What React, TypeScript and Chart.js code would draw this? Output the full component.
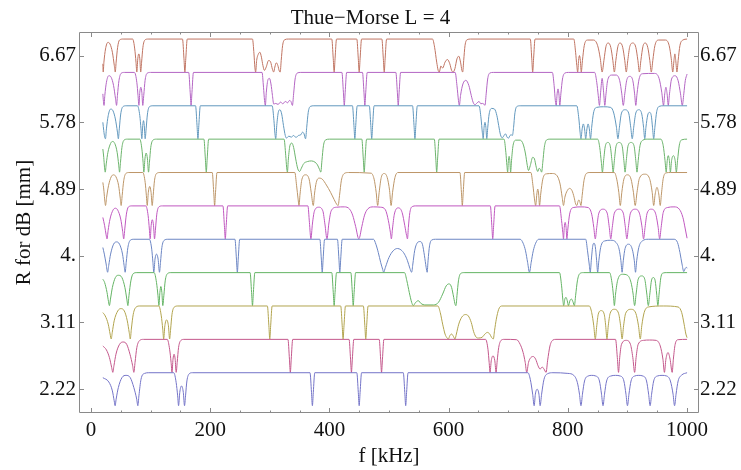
import React, { useEffect, useRef } from 'react';
import { Chart, registerables } from 'chart.js';

Chart.register(...registerables);

const TITLE = 'Thue\u2212Morse L = 4';
const X_TITLE = 'f [kHz]';
const Y_TITLE = 'R for dB [mm]';

// R value (mm) of each stacked trace, bottom to top
const R_VALUES = [2.22, 2.665, 3.11, 3.555, 4.0, 4.445, 4.89, 5.335, 5.78, 6.225, 6.67];
const TRACE_SPAN = 0.44; // vertical extent of one normalised trace (mm)
const COLORS = ['#7474c8', '#c4588c', '#b2a44e', '#64b464', '#6c86c4', '#c058c0', '#bd9668', '#6cb46c', '#6298be', '#b466c4', '#c07462'];

const X_MIN = -20;
const X_MAX = 1020;
const Y_MIN = 1.903;
const Y_MAX = 6.984;
const X_TICKS = [0, 200, 400, 600, 800, 1000];
const X_MINOR_TICKS = [0, 50, 100, 150, 200, 250, 300, 350, 400, 450, 500, 550, 600, 650, 700, 750, 800, 850, 900, 950, 1000];
const Y_TICKS = [2.22, 3.11, 4.0, 4.89, 5.78, 6.67];
const Y_TICK_LABELS = ['2.22', '3.11', '4.', '4.89', '5.78', '6.67'];

// Each trace: [f (kHz), normalised level 0..1]
const T_2_22 = [[20,.85],[30,.72],[36,.45],[39,.15],[40.6,0],[42.3,.2],[46,.55],[52,.85],[59,.92],[66,.85],[72,.55],[76.8,.2],[78.7,0],[80.5,.3],[84,.8],[90,.98],[97,1],[139,1],[143,.7],[145.5,.3],[147,0],[149,.4],[152,.6],[155,.4],[157,0],[158.7,.3],[161,.75],[165,.97],[170,1],[367.5,1],[370,.4],[371.5,0],[373,.4],[375.5,1],[446,1],[448.5,.4],[450,0],[451.5,.4],[454,1],[524,1],[526.5,.4],[528,0],[529.5,.4],[532,1],[733,1],[737,.8],[741,.35],[743.5,0],[745.5,.35],[748.5,.5],[751.5,.35],[753.5,0],[756,.35],[760,.8],[766,.97],[775,1],[800,.98],[810,.92],[816,.7],[819.5,.35],[822,0],[824.5,.35],[828,.75],[834,.9],[840,.92],[847,.9],[853,.75],[856.5,.35],[859,0],[861.5,.35],[865,.75],[872,.9],[880,.92],[888,.9],[894,.75],[897.5,.35],[900,0],[902.5,.35],[906,.75],[912,.9],[919,.92],[926,.9],[932,.75],[935.5,.35],[938,0],[940.5,.35],[944,.75],[950,.9],[958,.92],[966,.9],[972,.75],[976.5,.35],[979,0],[981.5,.35],[985,.75],[991,.93],[1000,1]];

const T_2_67 = [[20,.8],[26,.68],[31,.45],[34.8,.15],[36.7,0],[38.6,.2],[42,.55],[48,.85],[54,.92],[60,.85],[65.5,.55],[70,.2],[72,0],[74,.3],[77,.75],[82,.97],[88,1],[128,1],[132,.7],[134.5,.3],[136,0],[137.7,.4],[139.5,.55],[141.3,.4],[143,0],[144.7,.3],[147,.75],[151,.97],[156,1],[330.5,1],[333,.4],[334.5,0],[336,.4],[338.5,1],[433,1],[435.5,.4],[437,0],[438.5,.4],[441,1],[483.5,1],[486,.4],[487.5,0],[489,.4],[491.5,1],[662,1],[666,.7],[668,.3],[669.5,0],[671.5,.35],[674.5,.5],[677.5,.35],[679.6,0],[681.5,.35],[684,.75],[688,.97],[693,1],[714,.99],[720,.85],[725,.6],[728.5,.3],[731,0],[734,.3],[738,.45],[742,.48],[746,.4],[750,.2],[753.5,.1],[757,.16],[760,.1],[763.5,0],[766,.35],[770,.8],[775,.98],[780,1],[880,1],[883,.45],[885,0],[887,.45],[890,.85],[898,.97],[905,.85],[909,.45],[912,0],[914.5,.45],[918,.85],[927,.97],[937,.98],[948,.97],[955,.8],[959.5,.4],[962,0],[964.5,.4],[968,.6],[971.5,.4],[975,0],[977,.4],[980,.85],[985,.99],[1000,1]];

const T_3_11 = [[20,.8],[24,.7],[29,.45],[32.2,.15],[34,0],[35.8,.2],[39,.55],[45,.85],[50,.92],[56,.85],[61,.55],[64.2,.2],[66,0],[67.8,.3],[71,.75],[76,.97],[82,1],[114,1],[118,.7],[120.5,.3],[122,0],[124,.4],[127,.58],[130,.4],[132,0],[133.7,.3],[136,.75],[140,.97],[146,1],[296,1],[298.5,.4],[300,0],[301.5,.4],[304,1],[419,1],[421.5,.4],[423,0],[424.5,.4],[427,1],[457,1],[459.5,.4],[461,0],[462.5,.4],[465,1],[582,1],[586,.8],[590,.45],[594,.15],[597.5,.03],[599.5,0],[602,.1],[605,.15],[608,.08],[610.7,0],[613,.15],[617,.45],[622,.66],[628,.74],[633,.7],[638,.5],[642,.22],[646,.06],[650,.03],[656,.05],[661,.15],[665,.2],[669,.15],[672,.05],[675,0],[677,.25],[680,.6],[684,.9],[689,1],[836,1],[840,.8],[843.5,.4],[846,0],[848.5,.4],[851,.75],[856,.86],[861,.75],[863.5,.4],[865.6,0],[867.8,.4],[871,.78],[878,.9],[885,.78],[888.5,.4],[891,0],[893.5,.4],[897,.78],[906,.9],[914,.78],[918.5,.4],[921.5,0],[924,.4],[928,.8],[935,.97],[960,1],[985,.97],[991,.8],[995,.45],[998,.15],[1000,.04]];

const T_3_56 = [[20,.8],[23,.7],[27,.4],[29.5,.12],[31,0],[32.8,.2],[36,.55],[41,.85],[46,.92],[52,.85],[57,.55],[60.2,.2],[62,0],[63.8,.3],[67,.75],[71,.97],[77,1],[106,1],[110,.7],[112.5,.3],[114,0],[115.7,.4],[117.3,.58],[119,.4],[120.6,0],[122.3,.3],[124.6,.75],[128.5,.97],[134,1],[267,1],[269.5,.4],[271,0],[272.5,.4],[275,1],[404,1],[406.5,.4],[408,0],[409.5,.4],[412,1],[436,1],[438.5,.4],[440,0],[441.5,.4],[444,1],[526,1],[530,.75],[534,.4],[538,.1],[540.7,0],[544,.08],[549,.15],[554,.06],[560,.02],[575,.02],[583,.1],[590,.35],[596,.6],[601,.66],[605,.55],[608.5,.25],[611,.03],[612.4,0],[614,.3],[616.5,.75],[620,.97],[626,1],[786,1],[789.5,.6],[791.5,.2],[793,0],[795,.2],[797,.25],[799,.15],[801,0],[803.5,.15],[806,.2],[808.5,.12],[811,0],[813,.3],[816,.75],[820,.97],[826,1],[870,1],[874,.7],[876.5,.3],[878,0],[880,.35],[884,.8],[892,.95],[900,.92],[906,.7],[909.5,.35],[912,0],[914.5,.35],[918,.8],[924,.9],[929,.8],[932.5,.35],[935,0],[937.5,.35],[940.5,.78],[943.5,.85],[946.5,.75],[949,.35],[951,0],[953,.35],[956,.85],[960,.99],[966,1],[1000,1]];

const T_4_00 = [[20,.75],[22.5,.55],[25.5,.25],[28,0],[29.8,.2],[33,.55],[38,.85],[43,.92],[48,.85],[53,.55],[55.7,.2],[57.4,0],[59.2,.3],[62,.75],[66,.97],[72,1],[98,1],[102,.7],[104,.3],[105.5,0],[107.5,.4],[110,.55],[112.7,.4],[115,0],[116.7,.3],[119,.75],[123,.97],[129,1],[241.6,1],[244.1,.4],[245.6,0],[247.1,.4],[249.6,1],[384,1],[386.5,.4],[388,0],[389.5,.4],[392,1],[413.5,1],[416,.4],[417.5,0],[419,.4],[421.5,1],[474,1],[478,.85],[482,.6],[486,.3],[489.5,.08],[491,0],[494,.15],[500,.45],[507,.65],[514,.72],[520,.68],[526,.55],[531,.35],[535,.12],[538,0],[540,.25],[543,.65],[547,.88],[552,.93],[556,.85],[559.5,.5],[562.3,.15],[564,0],[565.5,.35],[568,.8],[572,.98],[578,1],[720,1],[725,.88],[729,.65],[732.5,.3],[735.6,0],[738.5,.3],[742,.65],[746,.88],[751,1],[830,1],[833,.65],[835.8,.25],[837.6,0],[839.5,.4],[842,.82],[844,.88],[846,.78],[848.3,.35],[850,0],[852,.35],[855,.75],[862,.95],[872,.97],[881,.9],[886,.7],[889,.35],[891,0],[893,.35],[896,.72],[902,.85],[908,.7],[911.5,.35],[913.5,0],[915.5,.35],[919,.75],[925,.95],[935,1],[978,1],[984,.9],[988,.6],[991.5,.25],[994.5,.02],[997,.12],[999,.15],[1000,.12]];

const T_4_44 = [[20,.65],[23,.4],[25.5,.12],[27,0],[28.8,.25],[32,.6],[37,.87],[41,.93],[45,.87],[50,.6],[53.3,.22],[55,0],[56.8,.3],[59.5,.75],[63,.97],[69,1],[92,1],[96,.7],[98,.3],[99.4,0],[101,.4],[103,.58],[105,.4],[106.7,0],[108.3,.3],[110.5,.75],[114,.97],[120,1],[221.4,1],[223.9,.4],[225.4,0],[226.9,.4],[229.4,1],[364,1],[366.5,.5],[369,0],[371.5,.45],[375,.85],[382,.96],[389,.85],[392.5,.45],[396,0],[399,.45],[403,.85],[412,.96],[425,.97],[434,.9],[439,.72],[444,.38],[449.4,0],[454.5,.38],[459,.72],[464,.9],[474,.97],[486,.96],[494,.88],[499,.55],[502.3,.2],[504,0],[505.8,.3],[509,.75],[516,.94],[522,.8],[526.5,.4],[529.5,.1],[531,0],[532.5,.35],[535,.8],[539,.98],[545,1],[670,1],[672.5,.4],[674,0],[675.5,.4],[678,1],[786,1],[789.5,.55],[791.5,.2],[792.7,0],[794,.35],[795.5,.5],[797,.35],[798.4,0],[800,.3],[803,.75],[809,.95],[822,.97],[834,.95],[840,.75],[843.5,.35],[846,0],[848.5,.35],[852,.78],[859,.9],[866,.78],[869.5,.35],[872,0],[874.5,.35],[878,.78],[886,.9],[893,.78],[896.5,.35],[899,0],[901.5,.35],[905,.78],[913,.9],[920,.78],[924.5,.35],[927,0],[929.5,.35],[933,.78],[940,.9],[947,.78],[951.5,.35],[954,0],[956.5,.35],[960,.8],[967,.95],[978,.97],[987,.9],[993,.65],[997,.3],[1000,.02]];

const T_4_89 = [[20,.7],[21.5,.5],[23,.2],[24.5,0],[26.3,.25],[29.5,.6],[34,.87],[38,.93],[42,.87],[46.5,.6],[49.2,.22],[50.7,0],[52.4,.3],[55,.75],[58.5,.97],[64,1],[87,1],[91,.7],[93,.3],[94.4,0],[96.3,.4],[98.6,.58],[100.9,.4],[102.8,0],[104.4,.3],[106.6,.75],[110,.97],[116,1],[203.5,1],[206,.4],[207.5,0],[209,.4],[211.5,1],[342,1],[345,.6],[347.5,.2],[349,0],[350.8,.35],[354,.8],[360,.93],[366,.8],[369.5,.4],[373,0],[375,.35],[378,.7],[383,.83],[388,.8],[395,.62],[402,.4],[408,.18],[412.5,.03],[414.7,0],[417,.3],[420,.75],[425,.97],[432,1],[470,.98],[475,.8],[478.5,.4],[481,0],[483.5,.4],[487,.85],[492,.97],[497,.85],[501,.45],[503.5,0],[506,.4],[510,.85],[515,1],[619,1],[621.5,.4],[623,0],[624.5,.4],[627,1],[738,1],[741.5,.6],[744,.2],[746,0],[748,.35],[749.5,.5],[751,.35],[752.5,0],[754.5,.35],[758,.8],[764,.96],[774,.97],[782,.9],[787,.65],[790.5,.25],[792.7,0],[795,.25],[799,.45],[803,.52],[807,.45],[810.5,.25],[813,.05],[815,0],[817,.12],[818.5,.17],[820,.12],[822,0],[824,.3],[827,.75],[831,.97],[837,1],[878,1],[882,.8],[885.5,.4],[888,0],[890.5,.4],[894,.8],[900,.93],[906,.8],[910,.4],[913,0],[916,.4],[920,.82],[929,.95],[937,.82],[941.5,.4],[944,0],[946.5,.35],[949.5,.55],[952.5,.35],[955,0],[957,.35],[960,.82],[965,.99],[972,1],[1000,1]];

const T_5_33 = [[20,.7],[21.5,.45],[22.8,.15],[24,0],[25.7,.25],[28.5,.6],[33,.87],[36,.93],[40,.87],[44,.6],[46.6,.22],[48,0],[49.6,.3],[52,.75],[55.5,.97],[61,1],[82,1],[85.5,.7],[87.5,.3],[88.8,0],[90.6,.4],[92.7,.58],[94.8,.4],[96.6,0],[98.2,.3],[100.4,.75],[104,.97],[110,1],[189.5,1],[192,.4],[193.5,0],[195,.4],[197.5,1],[324,1],[326.8,.5],[328.3,.15],[329.6,0],[331.2,.4],[334,.82],[337,.88],[340,.75],[343.5,.4],[347,.1],[350,.02],[353,.12],[357,.26],[363,.32],[370,.34],[376,.3],[380,.22],[383.5,.08],[385.6,0],[387.5,.35],[390,.8],[394,.98],[400,1],[454.4,1],[456.9,.4],[458.4,0],[459.9,.4],[462.4,1],[576,1],[578.5,.4],[580,0],[581.5,.4],[584,1],[693,1],[696,.6],[697.8,.2],[699,0],[700.3,.35],[701.5,.48],[702.7,.35],[704,0],[705.5,.35],[708,.8],[713,.97],[720,.97],[725,.85],[729,.55],[732,.2],[734,.05],[737,.2],[741,.45],[744,.4],[747,.15],[749.5,.02],[752,.12],[754,.08],[756,0],[758,.3],[760.5,.75],[764,.97],[770,1],[850,1],[853.5,.75],[856.2,.3],[858,0],[860,.35],[863,.8],[867,.9],[871,.8],[874,.35],[876,0],[878,.35],[881,.8],[886,.9],[891,.8],[894,.35],[896,0],[898,.35],[901,.8],[906,.9],[911,.8],[914,.35],[916,0],[918,.35],[921,.8],[926,.97],[933,1],[956,1],[960,.8],[963,.35],[965,0],[966.7,.35],[968.5,.5],[970.3,.35],[972,0],[974,.35],[977,.5],[980,.35],[982,0],[984,.35],[987,.82],[991,.98],[1000,1]];

const T_5_78 = [[20,.5],[21.5,.25],[23,.06],[24.4,0],[26,.3],[29,.7],[33,.9],[37,.85],[41,.6],[44.5,.2],[46,0],[47.6,.3],[50,.75],[53.5,.97],[59,1],[78,1],[82,.7],[84,.3],[85.4,0],[86.9,.4],[88.2,.55],[89.5,.4],[91,0],[92.6,.3],[94.8,.75],[98,.97],[104,1],[175.5,1],[178,.4],[179.5,0],[181,.4],[183.5,1],[304,1],[307,.55],[308.7,.15],[310,0],[311.7,.4],[314.5,.82],[317,.88],[320,.75],[323,.4],[326,.1],[328,.02],[332,.08],[336,.05],[340,.1],[344,.04],[348,.1],[352,.12],[355,.2],[357.5,.15],[360,0],[362,.35],[364.5,.8],[368,.98],[374,1],[438.7,1],[441.2,.4],[442.7,0],[444.2,.4],[446.7,1],[467,1],[469.5,.4],[471,0],[472.5,.4],[475,1],[539.5,1],[542,.4],[543.5,0],[545,.4],[547.5,1],[651,1],[654.5,.6],[656.5,.2],[658,0],[659.5,.35],[661,.5],[662.5,.35],[664,0],[665.7,.35],[668,.75],[672,.92],[677,.9],[681,.7],[684,.4],[687,.12],[690,.03],[693,.1],[695.5,.15],[698,.05],[700.5,.02],[703,.1],[705,.12],[707,.1],[709,.35],[711,.75],[714,.97],[720,1],[815,1],[818.5,.6],[820.5,.2],[822,0],[824,.3],[826,.45],[828,.3],[830,0],[832,.3],[834,.45],[836,.3],[838,0],[840,.35],[843,.78],[848,.95],[860,.97],[872,.95],[877,.78],[881.5,.35],[884,0],[886.5,.35],[890,.78],[896,.88],[902,.78],[905.5,.35],[908,0],[910.5,.35],[914,.78],[919,.88],[924,.75],[927,.35],[929,0],[931,.35],[934,.72],[937,.8],[940,.7],[942,.35],[944,0],[946,.35],[949,.82],[953,.98],[960,1],[1000,1]];

const T_6_22 = [[20,.35],[21,.12],[22,0],[23.3,.3],[26,.7],[30,.9],[34,.85],[38,.6],[41.3,.2],[43,0],[44.5,.3],[47,.75],[50.5,.97],[56,1],[73,1],[77,.7],[79,.3],[80.5,0],[82,.4],[83.7,.55],[85.4,.4],[87,0],[88.6,.3],[90.8,.75],[94,.97],[100,1],[164,1],[166.5,.4],[168,0],[169.5,.4],[172,1],[287,1],[289.5,.55],[291.2,.15],[292.6,0],[294.2,.4],[297,.78],[299.5,.82],[302,.65],[304.5,.3],[306.6,.04],[310,.06],[314,.03],[318,.1],[322,.05],[326,.12],[330,.08],[333,.15],[335.5,.12],[338,0],[340,.35],[342.5,.8],[346,.98],[352,1],[421,1],[423.5,.4],[425,0],[426.5,.4],[429,1],[455.5,1],[458,.4],[459.5,0],[461,.4],[463.5,1],[511.5,1],[514,.4],[515.5,0],[517,.4],[519.5,1],[611,1],[614,.6],[616.5,.15],[618,0],[620,.3],[624,.65],[629,.76],[634,.6],[638,.3],[641,.1],[644,.02],[648,.08],[651,.12],[654,.05],[657,.06],[659.5,.03],[661,0],[663,.35],[665.5,.8],[669,.98],[675,1],[774,1],[777,.6],[779,.15],[780.5,0],[782,.35],[783.5,.5],[785,.35],[786.5,0],[788.3,.35],[791,.8],[795,.98],[801,1],[845,1],[848.5,.7],[851,.3],[853,0],[855,.4],[857.5,.82],[860,.4],[862,0],[864,.35],[867,.78],[874,.92],[881,.92],[887,.75],[890.5,.35],[893,0],[895.5,.35],[899,.78],[904,.88],[909,.75],[912,.35],[914,0],[916,.35],[919.5,.8],[925,.96],[945,.97],[953,.82],[957.5,.4],[960.5,0],[962.5,.35],[964.5,.55],[966.5,.35],[968.5,0],[970.5,.35],[974,.8],[980,.9],[985,.75],[989,.35],[992,0],[994.5,.35],[997,.75],[1000,.95]];

const T_6_67 = [[20,.25],[20.6,0],[21.8,.3],[24.5,.7],[28.5,.9],[32,.85],[36,.6],[39.2,.2],[40.8,0],[42.3,.3],[44.8,.75],[48,.97],[54,1],[70,1],[73.5,.7],[75.6,.3],[77,0],[78.6,.4],[80.3,.55],[82,.4],[83.5,0],[85,.3],[87.2,.75],[90.5,.97],[96,1],[153.6,1],[156.1,.4],[157.6,0],[159.1,.4],[161.6,1],[271,1],[273.5,.55],[275,.15],[276.3,0],[278,.35],[281,.55],[283.5,.6],[286,.45],[288.5,.2],[291,.05],[294,.15],[298,.35],[301.5,.3],[304.5,.08],[306.5,0],[308.5,.15],[311,.28],[313.5,.2],[316,.03],[317.5,0],[319.2,.35],[321.5,.8],[325,.98],[331,1],[404,1],[406.5,.4],[408,0],[409.5,.4],[412,1],[446,1],[448.5,.4],[450,0],[451.5,.4],[454,1],[488,1],[490.5,.4],[492,0],[493.5,.4],[496,1],[573,1],[576.5,.75],[580,.3],[582.5,.05],[584.4,0],[587,.18],[590,.12],[594,.3],[598,.38],[602,.25],[605,.05],[607.5,0],[610.5,.1],[614,.4],[617,.48],[620,.3],[622.3,.05],[623.6,0],[625.3,.35],[627.5,.8],[631,.98],[637,1],[737,1],[739.5,.4],[741,0],[742.5,.4],[745,1],[810,1],[813,.6],[815,.2],[816.5,0],[818,.35],[819.5,.5],[821,.35],[822.5,0],[824.5,.35],[827.5,.8],[833,.97],[843,.97],[850,.8],[854.5,.4],[857.5,0],[860.5,.35],[864,.78],[868,.88],[872,.75],[875.5,.35],[878,0],[880.5,.35],[884,.78],[888,.88],[892,.75],[895.5,.35],[898,0],[900.5,.35],[904,.78],[909,.88],[914,.75],[917.5,.35],[920,0],[922.5,.35],[926,.78],[930,.88],[934,.75],[937.5,.35],[940,0],[942.5,.35],[946,.8],[952,.97],[964,.97],[970,.8],[973.5,.4],[976,0],[978,.35],[979.5,.55],[981,.35],[983,0],[985,.35],[988,.8],[993,.97],[1000,1]];

const TRACES = [T_2_22, T_2_67, T_3_11, T_3_56, T_4_00, T_4_44, T_4_89, T_5_33, T_5_78, T_6_22, T_6_67];

const FONT_FAMILY = "'Liberation Serif', 'Times New Roman', serif";
const TEXT_COLOR = '#111111';
const FRAME_COLOR = '#8a8a8a';

const frameTicksPlugin = {
  id: 'frameTicks',
  afterDatasetsDraw(chart: any) {
    const { ctx, chartArea: a, scales } = chart;
    const xs = scales.x;
    const ys = scales.y;
    ctx.save();
    ctx.strokeStyle = FRAME_COLOR;
    ctx.lineWidth = 1;
    ctx.beginPath();
    ctx.rect(a.left + 0.5, a.top + 0.5, a.right - a.left - 1, a.bottom - a.top - 1);
    for (const v of X_MINOR_TICKS) {
      const px = Math.round(xs.getPixelForValue(v)) + 0.5;
      const len = X_TICKS.includes(v) ? 5 : 2.5;
      ctx.moveTo(px, a.bottom);
      ctx.lineTo(px, a.bottom - len);
      ctx.moveTo(px, a.top);
      ctx.lineTo(px, a.top + len);
    }
    for (const v of Y_TICKS) {
      const py = Math.round(ys.getPixelForValue(v)) + 0.5;
      ctx.moveTo(a.left, py);
      ctx.lineTo(a.left + 5, py);
      ctx.moveTo(a.right, py);
      ctx.lineTo(a.right - 5, py);
    }
    ctx.stroke();
    ctx.restore();
  },
};

export default function App() {
  const canvasRef = useRef<HTMLCanvasElement | null>(null);

  useEffect(() => {
    if (!canvasRef.current) return;
    const datasets = TRACES.map((trace, i) => ({
      label: 'R = ' + R_VALUES[i],
      data: trace.map(([f, v]) => ({ x: f, y: R_VALUES[i] + (v - 0.5) * TRACE_SPAN })),
      borderColor: COLORS[i],
      backgroundColor: COLORS[i],
      borderWidth: 1,
      pointRadius: 0,
      fill: false,
      cubicInterpolationMode: 'monotone' as const,
    }));

    const tickFont = { family: FONT_FAMILY, size: 21 };
    const noGrid = { display: false, drawTicks: false, tickLength: 0 };
    const chart = new Chart(canvasRef.current, {
      type: 'line',
      data: { datasets },
      plugins: [frameTicksPlugin],
      options: {
        responsive: false,
        animation: false,
        layout: { padding: 0 },
        plugins: {
          legend: { display: false },
          tooltip: { enabled: false },
          title: {
            display: true,
            text: TITLE,
            color: TEXT_COLOR,
            font: { family: FONT_FAMILY, size: 21, weight: 'normal' },
            padding: { top: 5.7, bottom: 1.1 },
          },
        },
        scales: {
          x: {
            type: 'linear',
            min: X_MIN,
            max: X_MAX,
            grid: noGrid,
            border: { display: false },
            afterBuildTicks: (s: any) => { s.ticks = X_TICKS.map((v) => ({ value: v })); },
            afterFit: (s: any) => { s.height = 57; },
            ticks: {
              color: TEXT_COLOR,
              font: tickFont,
              padding: 4.5,
              maxRotation: 0,
              autoSkip: false,
              callback: (v: any) => String(v),
            },
            title: {
              display: true,
              text: X_TITLE,
              color: TEXT_COLOR,
              font: tickFont,
              padding: { top: 0, bottom: 0.7 },
            },
          },
          y: {
            type: 'linear',
            position: 'left',
            min: Y_MIN,
            max: Y_MAX,
            grid: noGrid,
            border: { display: false },
            afterBuildTicks: (s: any) => { s.ticks = Y_TICKS.map((v) => ({ value: v })); },
            afterFit: (s: any) => { s.width = 79; },
            ticks: {
              color: TEXT_COLOR,
              font: tickFont,
              padding: 3,
              autoSkip: false,
              callback: (_v: any, i: number) => Y_TICK_LABELS[i],
            },
            title: {
              display: true,
              text: Y_TITLE,
              color: TEXT_COLOR,
              font: tickFont,
              padding: { top: 11.4, bottom: 0 },
            },
          },
          y2: {
            type: 'linear',
            position: 'right',
            min: Y_MIN,
            max: Y_MAX,
            grid: noGrid,
            border: { display: false },
            afterBuildTicks: (s: any) => { s.ticks = Y_TICKS.map((v) => ({ value: v })); },
            afterFit: (s: any) => { s.width = 42; },
            ticks: {
              color: TEXT_COLOR,
              font: tickFont,
              padding: 1,
              autoSkip: false,
              callback: (_v: any, i: number) => Y_TICK_LABELS[i],
            },
          },
        },
      },
    } as any);
    return () => chart.destroy();
  }, []);

  return (
    <div style={{ position: 'absolute', left: 0, top: 0, width: 741, height: 470, background: '#ffffff' }}>
      <canvas ref={canvasRef} width={741} height={470} style={{ display: 'block', width: 741, height: 470 }} />
    </div>
  );
}
